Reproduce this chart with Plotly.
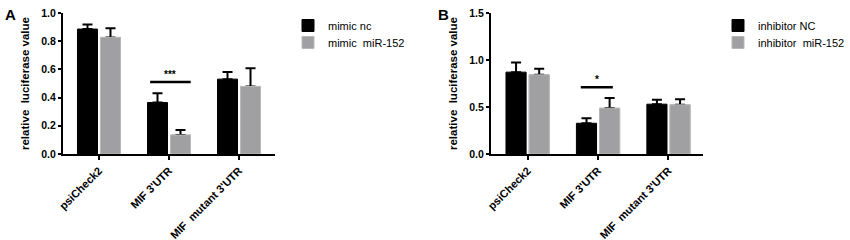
import plotly.graph_objects as go

# ---------------- data ----------------
categories = ["psiCheck2", "MIF 3'UTR", "MIF  mutant 3'UTR"]

a_nc_name = "mimic nc"
a_mir_name = "mimic  miR-152"
a_nc = [0.886, 0.365, 0.531]
a_nc_err = [0.033, 0.066, 0.050]
a_mir = [0.827, 0.135, 0.479]
a_mir_err = [0.064, 0.036, 0.130]

b_nc_name = "inhibitor NC"
b_inh_name = "inhibitor  miR-152"
b_nc = [0.871, 0.327, 0.530]
b_nc_err = [0.103, 0.053, 0.046]
b_inh = [0.842, 0.487, 0.523]
b_inh_err = [0.064, 0.110, 0.060]

a_ticks = [0.0, 0.2, 0.4, 0.6, 0.8, 1.0]
b_ticks = [0.0, 0.5, 1.0, 1.5]

# significance brackets: (x0, x1, y, label) in category units / data values
a_sig = (0.73, 1.31, 0.51, "***")
b_sig = (0.755, 1.21, 0.711, "*")

y_title = "relative  luciferase value"

# ---------------- style ----------------
FONT = "Liberation Sans, Arial, sans-serif"
BLACK = "#000000"
GREY = "#a0a0a2"
GREY_EDGE = "#b8b8b8"
W, H = 850, 240


def px_x(p):
    return p / W


def px_y(p):
    return 1 - p / H


fig = go.Figure()


def add_panel(xa, ya, leg1, leg2, nc, nc_err, nc_name, tr, tr_err, tr_name):
    zeros = [0] * len(categories)
    fig.add_trace(go.Bar(
        x=categories, y=nc, name=nc_name, xaxis=xa, yaxis=ya, legend=leg1,
        offsetgroup="1", marker=dict(color=BLACK, line=dict(color=BLACK, width=1)),
        error_y=dict(type="data", array=nc_err, arrayminus=zeros, symmetric=False,
                     color=BLACK, thickness=2, width=5),
    ))
    fig.add_trace(go.Bar(
        x=categories, y=tr, name=tr_name, xaxis=xa, yaxis=ya, legend=leg2,
        offsetgroup="2", marker=dict(color=GREY, line=dict(color=GREY_EDGE, width=1)),
        error_y=dict(type="data", array=tr_err, arrayminus=zeros, symmetric=False,
                     color=BLACK, thickness=2, width=5),
    ))
    # same bars again on top, hiding the lower cap of the error bar
    fig.add_trace(go.Bar(
        x=categories, y=tr, name=tr_name, xaxis=xa, yaxis=ya, showlegend=False,
        offsetgroup="2", marker=dict(color=GREY, line=dict(color=GREY_EDGE, width=1)),
        hoverinfo="skip",
    ))


add_panel("x", "y", "legend", "legend3", a_nc, a_nc_err, a_nc_name, a_mir, a_mir_err, a_mir_name)
add_panel("x2", "y2", "legend2", "legend4", b_nc, b_nc_err, b_nc_name, b_inh, b_inh_err, b_inh_name)

common_x = dict(showline=True, linecolor=BLACK, linewidth=2, ticks="outside",
                ticklen=4, tickwidth=2, tickcolor=BLACK, tickangle=-45,
                tickfont=dict(family=FONT, size=11, color=BLACK, weight="bold"),
                showgrid=False, zeroline=False, fixedrange=True, automargin=False)
common_y = dict(showline=True, linecolor=BLACK, linewidth=2, ticks="outside",
                ticklen=3, tickwidth=2, tickcolor=BLACK,
                tickfont=dict(family=FONT, size=10.5, color=BLACK, weight="bold"),
                showgrid=False, zeroline=False, tickformat=".1f", fixedrange=True,
                automargin=False)

y_dom = [px_y(154), px_y(13)]


def leg(xp, yp):
    return dict(x=px_x(xp), y=px_y(yp), xanchor="left", yanchor="top",
                font=dict(family=FONT, size=11, color=BLACK),
                bgcolor="rgba(0,0,0,0)", tracegroupgap=0, itemwidth=30)


fig.update_layout(
    width=W, height=H,
    margin=dict(l=0, r=0, t=0, b=0),
    paper_bgcolor="white", plot_bgcolor="white",
    barmode="group", bargap=0.343, bargroupgap=0.13,
    font=dict(family=FONT, color=BLACK),
    xaxis=dict(domain=[px_x(63), px_x(275)], range=[-0.514, 2.514], anchor="y", **common_x),
    yaxis=dict(domain=y_dom, range=[0, 1.0], tickvals=a_ticks, anchor="x", **common_y),
    xaxis2=dict(domain=[px_x(491), px_x(703)], range=[-0.52, 2.49], anchor="y2", **common_x),
    yaxis2=dict(domain=y_dom, range=[0, 1.5], tickvals=b_ticks, anchor="x2", **common_y),
    legend=leg(288, 11),
    legend3=leg(288, 28),
    legend2=leg(718, 11),
    legend4=leg(718, 28),
    showlegend=True,
)

# significance bars and stars
for (x0, x1, yv, lab), xr, yr in [(a_sig, "x", "y"), (b_sig, "x2", "y2")]:
    fig.add_shape(type="line", xref=xr, yref=yr, x0=x0, x1=x1, y0=yv, y1=yv,
                  line=dict(color=BLACK, width=2.5))
    fig.add_annotation(xref=xr, yref=yr, x=(x0 + x1) / 2, y=yv, text=lab,
                       showarrow=False, yanchor="bottom", yshift=0,
                       font=dict(family=FONT, size=10, color=BLACK, weight="bold"))

# y axis titles
for xc in (25, 453):
    fig.add_annotation(xref="paper", yref="paper", x=px_x(xc), y=px_y(84),
                       text=y_title, textangle=-90, showarrow=False,
                       xanchor="center", yanchor="middle",
                       font=dict(family=FONT, size=11.5, color=BLACK, weight="bold"))

# panel letters
for lab, xl in (("A", 3), ("B", 436)):
    fig.add_annotation(xref="paper", yref="paper", x=px_x(xl), y=px_y(4),
                       text=lab, showarrow=False, xanchor="left", yanchor="top",
                       font=dict(family=FONT, size=15, color=BLACK, weight="bold"))

fig.write_html("out.html", config={"displayModeBar": False},
               post_script="document.body.style.margin='0';")
